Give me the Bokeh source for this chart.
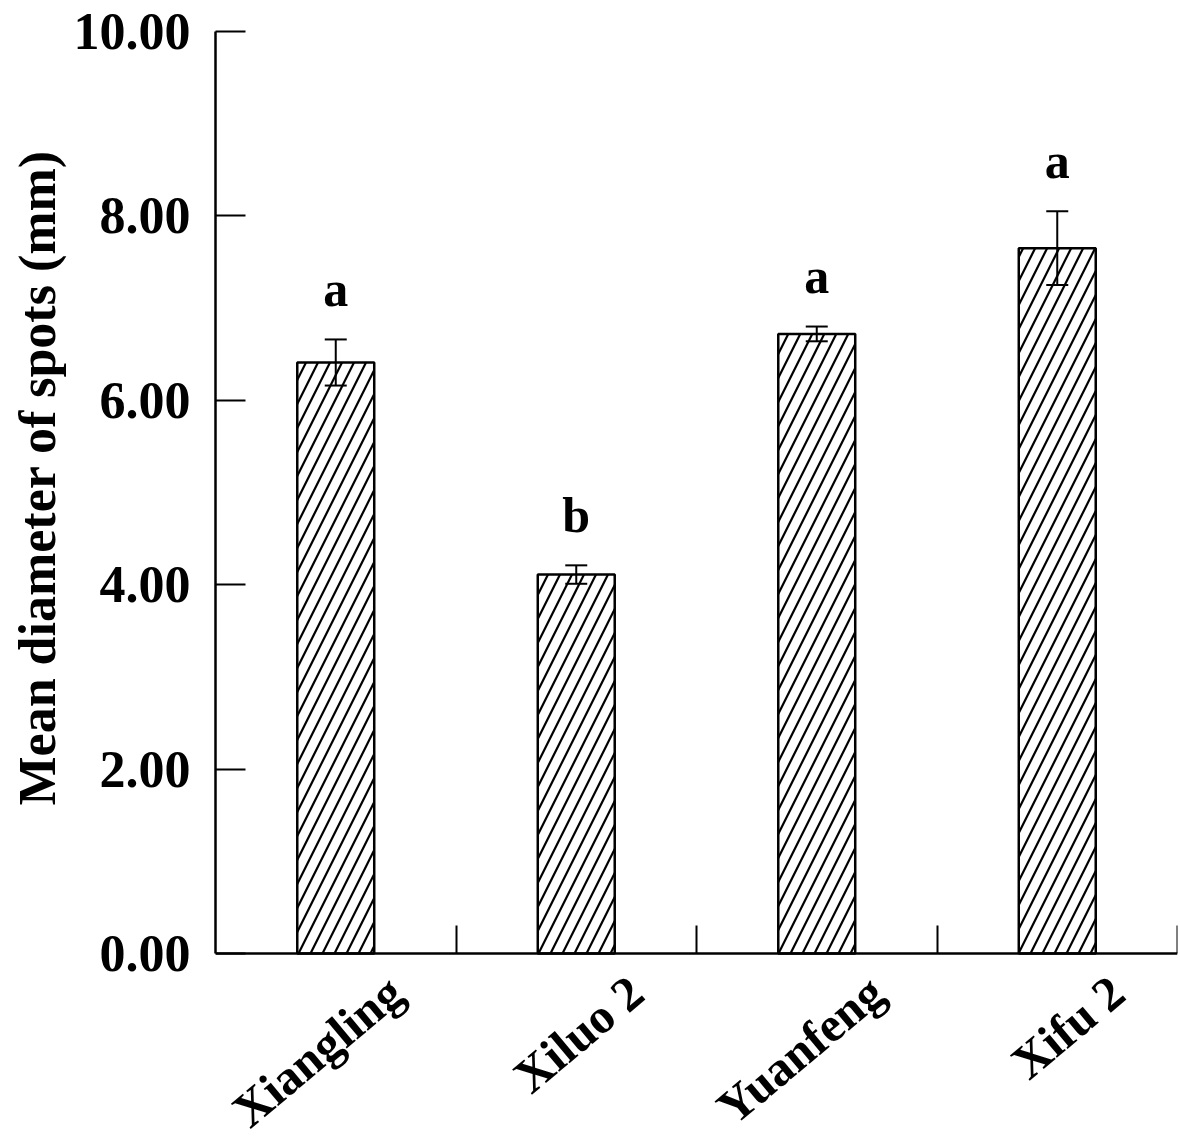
import math
import numpy as np
from bokeh.plotting import figure
from bokeh.models import (ColumnDataSource, Range1d, FixedTicker, NumeralTickFormatter,
                          Whisker, TeeHead, Title)
from bokeh.core.properties import value
from bokeh.embed import file_html
from bokeh.resources import INLINE

# ---- data ----
cultivars = ["Xiangling", "Xiluo 2", "Yuanfeng", "Xifu 2"]
mean_diameter = [6.41, 4.11, 6.72, 7.65]
std_error = [0.25, 0.10, 0.08, 0.40]
letters = ["a", "b", "a", "a"]
y_ticks = [0, 2, 4, 6, 8, 10]
y_title = "Mean diameter of spots (mm)"

FONT = "Liberation Serif"

n = len(cultivars)
xpos = np.arange(n) + 0.5
upper = [m + e for m, e in zip(mean_diameter, std_error)]
lower = [m - e for m, e in zip(mean_diameter, std_error)]
letter_y = [u + 0.55 for u in upper]

src = ColumnDataSource(dict(x=xpos, top=mean_diameter, upper=upper, lower=lower,
                            letter=letters, ly=letter_y))

W, H = 1180, 1146
TOP, LEFT, RIGHT = 31, 215, 3
AXIS_BOTTOM_PX = 953                       # where y = 0 sits
px_per_unit = (AXIS_BOTTOM_PX - TOP) / 10.0
y_start = -(H - AXIS_BOTTOM_PX) / px_per_unit  # room below the axis for rotated labels

p = figure(width=W, height=H, output_backend="svg", toolbar_location=None,
           x_range=Range1d(0, n), y_range=Range1d(y_start, 10),
           min_border_left=LEFT, min_border_right=RIGHT, min_border_top=TOP, min_border_bottom=0)
p.outline_line_color = None
p.xgrid.visible = False
p.ygrid.visible = False
p.background_fill_color = "white"

p.vbar(x="x", top="top", width=0.32, source=src, fill_color="white",
       line_color="black", line_width=2.5,
       hatch_pattern="/", hatch_color="black", hatch_scale=24, hatch_weight=2.2)

wh = Whisker(base="x", upper="upper", lower="lower", source=src,
             line_color="black", line_width=2, level="overlay",
             upper_head=TeeHead(size=22, line_color="black", line_width=2),
             lower_head=TeeHead(size=22, line_color="black", line_width=2))
p.add_layout(wh)

p.text(x="x", y="ly", text="letter", source=src, text_font=value(FONT),
       text_font_style="bold", text_font_size="50px", text_align="center",
       text_baseline="alphabetic", text_color="black")

# y axis
ya = p.yaxis[0]
ya.bounds = (0, 10)
ya.ticker = FixedTicker(ticks=y_ticks, minor_ticks=[])
ya.formatter = NumeralTickFormatter(format="0.00")
ya.major_label_text_font = FONT
ya.major_label_text_font_style = "bold"
ya.major_label_text_font_size = "52px"
ya.major_label_text_color = "black"
ya.major_label_standoff = 25
ya.major_tick_in = 30
ya.major_tick_out = 0
ya.major_tick_line_width = 2
ya.minor_tick_line_color = None
ya.axis_line_width = 2.5
ya.axis_line_color = "black"

# y title, placed alongside the 0-10 part of the axis
p.add_layout(Title(text=y_title, align="left", offset=341, standoff=10,
                   text_font=FONT, text_font_style="bold", text_font_size="52px",
                   text_color="black"), "left")

# x axis at y = 0: rotated labels under the bars, ticks at category boundaries
label_pos = [round(x + 0.25, 2) for x in xpos]
xa = p.xaxis[0]
xa.fixed_location = 0
xa.ticker = FixedTicker(ticks=label_pos, minor_ticks=list(range(1, n + 1)))
xa.major_label_overrides = {float(x): c for x, c in zip(label_pos, cultivars)}
xa.major_label_orientation = math.radians(40)
xa.major_label_text_font = FONT
xa.major_label_text_font_style = "bold"
xa.major_label_text_font_size = "49px"
xa.major_label_text_color = "black"
xa.major_label_standoff = 26
xa.major_tick_line_color = None
xa.minor_tick_in = 28
xa.minor_tick_out = 0
xa.minor_tick_line_width = 2
xa.minor_tick_line_color = "black"
xa.axis_line_width = 2.5
xa.axis_line_color = "black"

open("out.html", "w").write(file_html(p, INLINE))
